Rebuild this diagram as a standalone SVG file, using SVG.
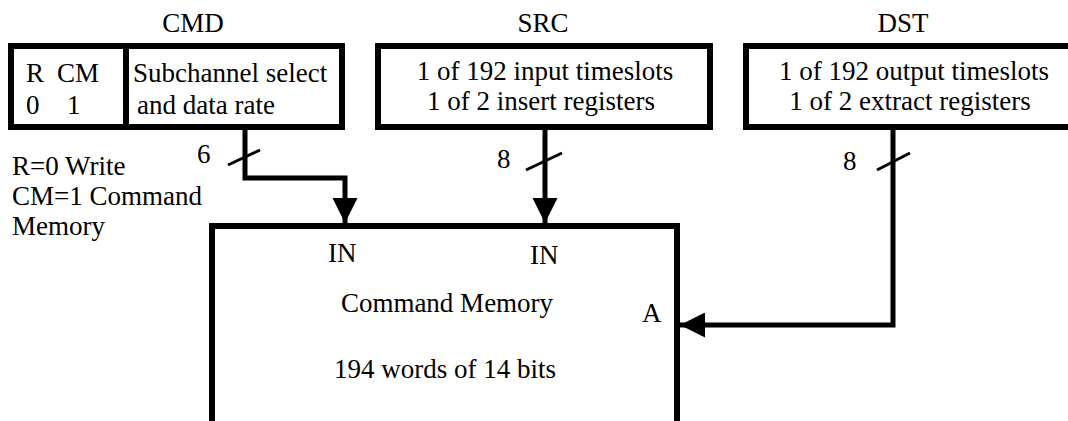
<svg xmlns="http://www.w3.org/2000/svg" width="1068" height="421" viewBox="0 0 1068 421">
<style>
.box{fill:#fff;stroke:#000;stroke-width:6}
.wire{fill:none;stroke:#000;stroke-width:5}
.slash{stroke:#000;stroke-width:3}
text{font-family:"Liberation Serif","Times New Roman",serif;font-size:27px;fill:#000}
.m{text-anchor:middle}
</style>
<defs>
<marker id="ah" viewBox="0 0 10 10" refX="10" refY="5" markerWidth="6" markerHeight="5" markerUnits="strokeWidth" orient="auto">
<path d="M0,0 L10,5 L0,10 Z" fill="#000"/>
</marker>
</defs>
<rect width="1068" height="421" fill="#fff"/>
<g id="cmd">
<text class="m" x="193" y="32">CMD</text>
<rect class="box" x="11" y="46" width="331" height="81"/>
<line x1="126" y1="46" x2="126" y2="127" stroke="#000" stroke-width="6"/>
<text x="26" y="82">R</text>
<text x="57" y="82">CM</text>
<text x="26" y="114">0</text>
<text x="67" y="114">1</text>
<text x="133" y="82">Subchannel select</text>
<text x="137" y="114">and data rate</text>
</g>
<g id="cmd-note">
<text x="12" y="175">R=0 Write</text>
<text x="12" y="205">CM=1 Command</text>
<text x="12" y="235">Memory</text>
</g>
<g id="src">
<text class="m" x="543" y="32">SRC</text>
<rect class="box" x="378" y="46" width="332" height="81"/>
<text class="m" x="545" y="80">1 of 192 input timeslots</text>
<text class="m" x="541" y="110">1 of 2 insert registers</text>
</g>
<g id="dst">
<text class="m" x="903" y="32">DST</text>
<rect class="box" x="746" y="46" width="340" height="81"/>
<text class="m" x="914" y="80">1 of 192 output timeslots</text>
<text class="m" x="910" y="110">1 of 2 extract registers</text>
</g>
<g id="memory">
<rect class="box" x="212" y="226" width="465" height="220"/>
<text x="328" y="262">IN</text>
<text x="530" y="264">IN</text>
<text class="m" x="447" y="312">Command Memory</text>
<text class="m" x="445" y="378">194 words of 14 bits</text>
<text x="642" y="322">A</text>
</g>
<g id="connectors">
<polyline class="wire" points="245,130 245,178 345,178 345,223" marker-end="url(#ah)"/>
<line class="slash" x1="228" y1="165" x2="260" y2="150"/>
<text x="197" y="163">6</text>
<polyline class="wire" points="545,130 545,223" marker-end="url(#ah)"/>
<line class="slash" x1="526" y1="170" x2="562" y2="153"/>
<text x="497" y="168">8</text>
<polyline class="wire" points="893,130 893,325 680,325" marker-end="url(#ah)"/>
<line class="slash" x1="877" y1="170" x2="910" y2="153"/>
<text x="843" y="170">8</text>
</g>
</svg>
